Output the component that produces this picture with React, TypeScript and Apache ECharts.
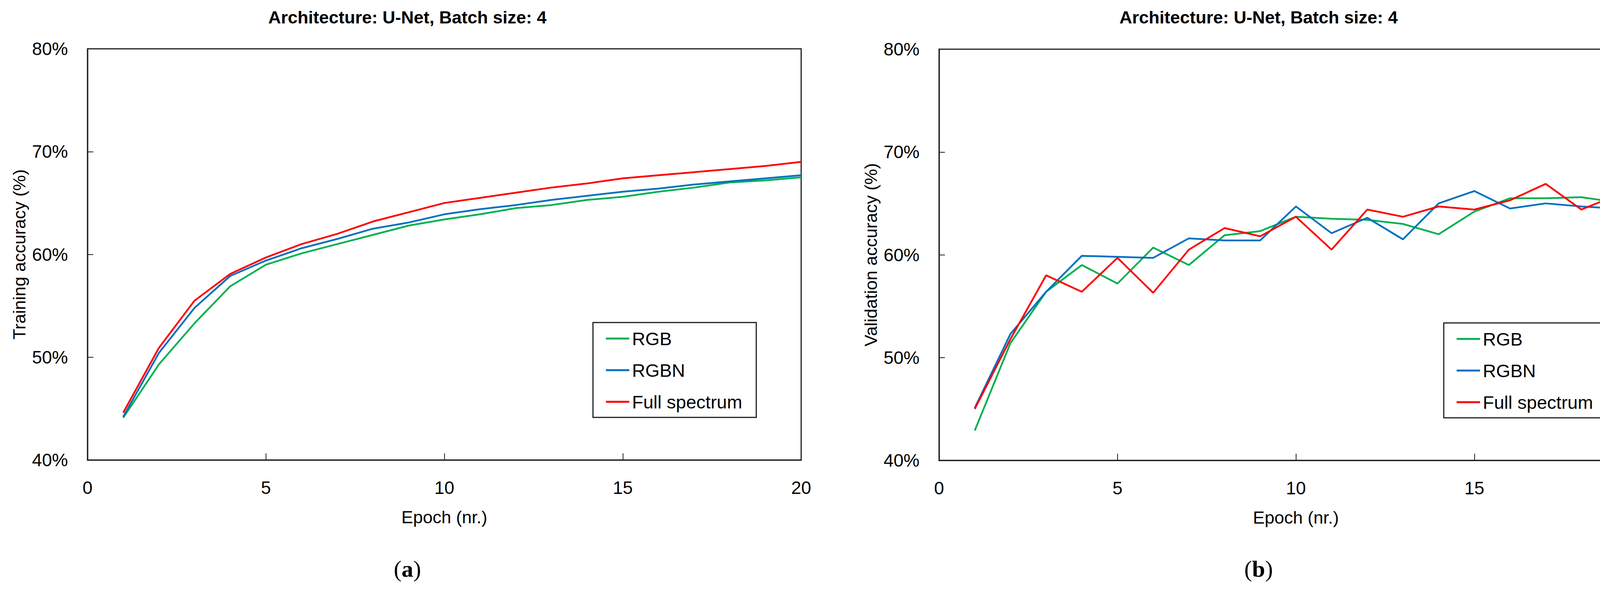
import React, { useEffect, useRef } from "react";
import * as echarts from "echarts";

const epochs = [1, 2, 3, 4, 5, 6, 7, 8, 9, 10, 11, 12, 13, 14, 15, 16, 17, 18, 19, 20];
const seriesNames = ["RGB", "RGBN", "Full spectrum"];
const seriesColors = ["#00B050", "#0070C0", "#FF0000"];

const trainRGB = [44.1, 49.3, 53.3, 56.9, 59.0, 60.1, 61.0, 61.9, 62.8, 63.4, 63.9, 64.5, 64.8, 65.3, 65.6, 66.1, 66.5, 67.0, 67.2, 67.5];
const trainRGBN = [44.2, 50.4, 54.8, 57.9, 59.4, 60.6, 61.5, 62.5, 63.1, 63.9, 64.4, 64.8, 65.3, 65.7, 66.1, 66.4, 66.8, 67.1, 67.4, 67.7];
const trainFull = [44.6, 50.9, 55.5, 58.1, 59.7, 61.0, 62.0, 63.2, 64.1, 65.0, 65.5, 66.0, 66.5, 66.9, 67.4, 67.7, 68.0, 68.3, 68.6, 69.0];

const valRGB = [42.9, 51.4, 56.4, 59.0, 57.2, 60.7, 59.0, 61.9, 62.3, 63.7, 63.5, 63.4, 63.0, 62.0, 64.2, 65.5, 65.5, 65.6, 65.1, 64.3];
const valRGBN = [45.1, 52.3, 56.4, 59.9, 59.8, 59.7, 61.6, 61.4, 61.4, 64.7, 62.1, 63.6, 61.5, 65.0, 66.2, 64.5, 65.0, 64.7, 64.5, 65.9];
const valFull = [45.0, 51.8, 58.0, 56.4, 59.7, 56.3, 60.5, 62.6, 61.8, 63.7, 60.5, 64.4, 63.7, 64.7, 64.4, 65.3, 66.9, 64.4, 65.8, 66.6];

const titleText = "Architecture: U-Net, Batch size: 4";
const xAxisName = "Epoch (nr.)";
const yAxisNames = ["Training accuracy (%)", "Validation accuracy (%)"];
const panelLabels = ["a", "b"];

const SANS = "'Liberation Sans', Arial, sans-serif";
const SERIF = "'Liberation Serif', 'Times New Roman', serif";
const AXIS_COLOR = "#1e1e1e";

export default function App() {
  const ref = useRef<HTMLDivElement>(null);

  useEffect(() => {
    if (!ref.current) return;
    const chart = echarts.init(ref.current, undefined, { renderer: "svg" });

    const grids = [
      { left: 224, top: 125, width: 1827, height: 1053 },
      { left: 2404, top: 126, width: 1827, height: 1053 },
    ];
    const titleCenters = [1043, 3222];
    const legendPos = [
      { left: 1518, top: 826 },
      { left: 3696, top: 827 },
    ];

    const makeX = (i: number) => ({
      type: "value",
      gridIndex: i,
      min: 0,
      max: 20,
      interval: 5,
      name: xAxisName,
      nameLocation: "middle",
      nameGap: 124,
      nameTextStyle: { fontFamily: SANS, fontSize: 45, color: "#000" },
      axisLine: { show: true, onZero: false, lineStyle: { color: AXIS_COLOR, width: 3 } },
      axisTick: { show: true, inside: true, length: 17, lineStyle: { color: AXIS_COLOR, width: 2 } },
      axisLabel: { show: true, margin: 48, fontFamily: SANS, fontSize: 46, color: "#000", showMinLabel: true, showMaxLabel: true },
      splitLine: { show: false },
    });
    const makeY = (i: number) => ({
      type: "value",
      gridIndex: i,
      min: 40,
      max: 80,
      interval: 10,
      name: yAxisNames[i],
      nameLocation: "middle",
      nameGap: 152,
      nameRotate: 90,
      nameTextStyle: { fontFamily: SANS, fontSize: 45, color: "#000" },
      axisLine: { show: true, onZero: false, lineStyle: { color: AXIS_COLOR, width: 3 } },
      axisTick: { show: true, inside: true, length: 15, lineStyle: { color: AXIS_COLOR, width: 2 } },
      axisLabel: { show: true, margin: 50, fontFamily: SANS, fontSize: 46, color: "#000", formatter: "{value}%", showMinLabel: true, showMaxLabel: true },
      splitLine: { show: false },
    });

    const allData = [
      [trainRGB, trainRGBN, trainFull],
      [valRGB, valRGBN, valFull],
    ];
    const series: any[] = [];
    allData.forEach((group, gi) => {
      group.forEach((vals, si) => {
        series.push({
          type: "line",
          name: seriesNames[si],
          xAxisIndex: gi,
          yAxisIndex: gi,
          data: epochs.map((e, k) => [e, vals[k]]),
          symbol: "none",
          showSymbol: false,
          lineStyle: { color: seriesColors[si], width: 4.5 },
          itemStyle: { color: seriesColors[si] },
          z: 3 + si,
        });
      });
    });

    const legends = legendPos.map((p) => ({
      show: true,
      orient: "vertical",
      left: p.left,
      top: p.top,
      data: seriesNames,
      icon: "rect",
      itemWidth: 60,
      itemHeight: 5,
      itemGap: 31,
      padding: [16, 36, 15, 33],
      borderColor: AXIS_COLOR,
      borderWidth: 3,
      backgroundColor: "#fff",
      selectedMode: false,
      textStyle: { fontFamily: SANS, fontSize: 47, color: "#000", lineHeight: 50, padding: [0, 0, 0, 2] },
    }));

    const graphics: any[] = [];
    titleCenters.forEach((cx, i) => {
      graphics.push({
        type: "text",
        x: cx,
        y: 44,
        style: {
          text: titleText,
          font: `bold 45px ${SANS}`,
          fill: "#000",
          textAlign: "center",
          textVerticalAlign: "middle",
        },
      });
      graphics.push({
        type: "text",
        x: cx,
        y: 1457,
        style: {
          text: `({b|${panelLabels[i]}})`,
          font: `60px ${SERIF}`,
          fill: "#000",
          textAlign: "center",
          textVerticalAlign: "middle",
          rich: { b: { fontFamily: SERIF, fontSize: 60, fontWeight: "bold", fill: "#000" } },
        },
      });
    });

    chart.setOption({
      animation: false,
      backgroundColor: "#fff",
      grid: grids.map((g) => ({ ...g, show: true, borderColor: AXIS_COLOR, borderWidth: 3, backgroundColor: "transparent", containLabel: false })),
      xAxis: [makeX(0), makeX(1)],
      yAxis: [makeY(0), makeY(1)],
      legend: legends,
      series,
      graphic: graphics,
    });

    return () => chart.dispose();
  }, []);

  return <div ref={ref} style={{ position: "absolute", left: 0, top: 0, width: 4261, height: 1511 }} />;
}
